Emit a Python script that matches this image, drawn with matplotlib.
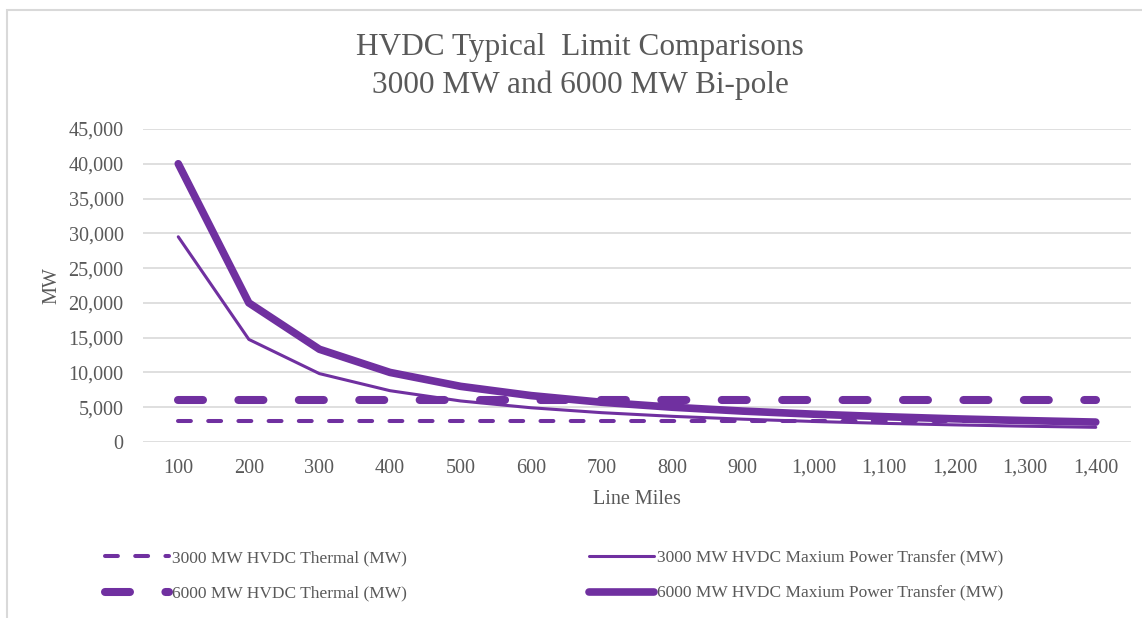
import matplotlib
matplotlib.use("Agg")
import matplotlib.pyplot as plt
import numpy as np
from matplotlib.patches import Rectangle

plt.rcParams['font.family'] = ['Liberation Serif', 'DejaVu Serif']

# Data
line_miles = [100, 200, 300, 400, 500, 600, 700, 800, 900, 1000, 1100, 1200, 1300, 1400]
tick_labels = ["100", "200", "300", "400", "500", "600", "700", "800", "900",
               "1,000", "1,100", "1,200", "1,300", "1,400"]
thermal_3000 = [3000] * 14
thermal_6000 = [6000] * 14
max_3000 = [29500, 14750, 9830, 7375, 5900, 4920, 4215, 3690, 3280, 2950, 2680, 2460, 2270, 2110]
max_6000 = [40000, 20000, 13330, 10000, 8000, 6670, 5710, 5000, 4440, 4000, 3640, 3330, 3080, 2860]

PURPLE = '#7030A0'
GRAY_TXT = '#595959'
GRID = '#D9D9D9'

fig = plt.figure(figsize=(11.42, 6.18), dpi=100)
ax = fig.add_axes([0.1252, 0.2848, 0.8652, 0.5065])

# chart border (light gray frame, runs off the right / bottom)
fig.patches.append(Rectangle((7 / 1142, -0.05), 1.2, 1 - 10 / 618 + 0.05,
                             transform=fig.transFigure, fill=False,
                             edgecolor=GRID, lw=1.5))

x = np.arange(len(line_miles))

l1, = ax.plot(x, thermal_3000, color=PURPLE, lw=2.9, dashes=(3.2, 4.3),
              dash_capstyle='round', label='3000 MW HVDC Thermal (MW)')
l3, = ax.plot(x, thermal_6000, color=PURPLE, lw=5.8, dashes=(3.1, 4.4),
              dash_capstyle='round', label='6000 MW HVDC Thermal (MW)')
l2, = ax.plot(x, max_3000, color=PURPLE, lw=2.2, solid_capstyle='round',
              label='3000 MW HVDC Maxium Power Transfer (MW)')
l4, = ax.plot(x, max_6000, color=PURPLE, lw=5.5, solid_capstyle='round',
              label='6000 MW HVDC Maxium Power Transfer (MW)')

ax.set_xlim(-0.5, len(line_miles) - 0.5)
ax.set_ylim(0, 45000)
ax.set_yticks(np.arange(0, 45001, 5000))
ax.set_yticklabels([f"{v:,}" for v in range(0, 45001, 5000)])
ax.set_xticks(x)
ax.set_xticklabels(tick_labels)
ax.tick_params(length=0, labelsize=14.5, labelcolor=GRAY_TXT)
ax.tick_params(axis='x', pad=12)
ax.tick_params(axis='y', pad=14)
ax.grid(axis='y', color=GRID, lw=1.2)
ax.set_axisbelow(True)
for s in ax.spines.values():
    s.set_visible(False)

ax.set_xlabel('Line Miles', fontsize=14.5, color=GRAY_TXT, labelpad=9)
ax.set_ylabel('MW', fontsize=14.5, color=GRAY_TXT, labelpad=5)

fig.text(0.508, 1 - 47 / 618, 'HVDC Typical  Limit Comparisons', ha='center', va='center',
         fontsize=22.5, color=GRAY_TXT)
fig.text(0.508, 1 - 85 / 618, '3000 MW and 6000 MW Bi-pole', ha='center', va='center',
         fontsize=22.5, color=GRAY_TXT)

fig.legend(handles=[l1, l3, l2, l4], ncol=2, loc='center left', frameon=False,
           bbox_to_anchor=(105 / 1142, 1 - 576 / 618), fontsize=12.5,
           borderaxespad=0, borderpad=0,
           labelcolor=GRAY_TXT, handlelength=3.7, handletextpad=0.17,
           columnspacing=10.5, labelspacing=1.1)

fig.savefig('out.png', dpi=100)
